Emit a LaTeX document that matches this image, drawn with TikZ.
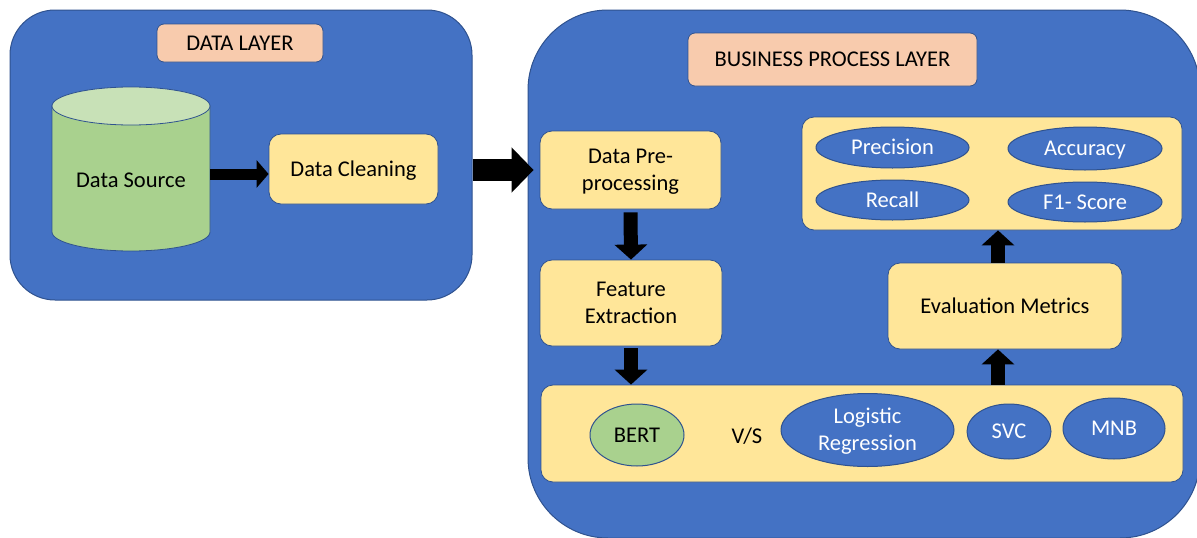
\documentclass[tikz,border=0pt]{standalone}
\usepackage{fontspec}
\setmainfont{Carlito}
\usetikzlibrary{shapes.geometric,arrows.meta,calc}

\definecolor{layerblue}{HTML}{4472C4}
\definecolor{edgeblue}{HTML}{2F528F}
\definecolor{boxyellow}{HTML}{FFE699}
\definecolor{titlepeach}{HTML}{F8CBAD}
\definecolor{dbgreen}{HTML}{A9D18E}
\definecolor{dbtop}{HTML}{C8E1B7}

\tikzset{
  txt/.style={font=\fontsize{22.5}{27}\selectfont, text=black, align=center,
    text height=14.5pt, text depth=0pt},
  twolines/.style={text height=41.5pt, text depth=0pt},
  layer/.style={draw=edgeblue, line width=1pt, fill=layerblue, inner sep=0pt},
  titlebox/.style={txt, draw=edgeblue, line width=0.8pt, fill=titlepeach,
    rounded corners=7pt, inner sep=0pt},
  stagebox/.style={txt, draw=edgeblue, line width=0.8pt, fill=boxyellow,
    rounded corners=12pt, inner sep=0pt},
  oval/.style={txt, ellipse, draw=edgeblue, line width=1pt, fill=layerblue,
    text=white, inner sep=0pt},
  smallarrow/.style={draw=black, line width=14pt,
    -{Triangle[length=15pt,width=32pt]}},
  bigarrow/.style={draw=black, line width=22pt,
    -{Triangle[length=22pt,width=44pt]}},
}

\begin{document}
\begin{tikzpicture}[x=1pt,y=1pt]
\useasboundingbox (0,0) rectangle (1197,-538);
\fill[white] (0,0) rectangle (1197,-538);
\clip (0,0) rectangle (1197,-538);

% ---------- data layer ----------
\node[layer, rounded corners=45pt, minimum width=462pt, minimum height=290pt]
  (datalayer) at (241,-155) {};
\node[titlebox, minimum width=166pt, minimum height=38pt]
  (dltitle) at (240,-43) {DATA LAYER};

% database cylinder
\node[inner sep=0pt, minimum width=158pt, minimum height=164pt]
  (dsrc) at (131,-169) {};
\filldraw[draw=edgeblue, line width=0.8pt, fill=dbgreen]
  (52,-106) -- (52,-232)
  arc[start angle=180, end angle=360, x radius=79, y radius=19]
  -- (210,-106) -- cycle;
\filldraw[draw=edgeblue, line width=0.8pt, fill=dbtop]
  (131,-106) ellipse[x radius=79, y radius=19];
\node[txt] (dstext) at (131,-180) {Data Source};

\node[stagebox, minimum width=169pt, minimum height=70pt]
  (clean) at (353.5,-169) {Data Cleaning};

\draw[smallarrow, line width=11pt, -{Triangle[length=12pt,width=27pt]}]
  ($(dsrc.east)+(0,-5)$) -- ($(clean.west)+(0,-5)$);

% ---------- business process layer ----------
\node[layer, rounded corners=80pt, minimum width=672pt, minimum height=528pt]
  (bplayer) at (864,-274) {};
\node[titlebox, minimum width=289pt, minimum height=53pt]
  (bptitle) at (832.5,-59.5) {BUSINESS PROCESS LAYER};

\node[stagebox, twolines, minimum width=181pt, minimum height=78pt]
  (pre) at (630.5,-170) {Data Pre-\\processing};
\node[stagebox, twolines, minimum width=182pt, minimum height=86pt]
  (feat) at (631,-303) {Feature\\Extraction};

% model comparison strip
\node[stagebox, minimum width=642pt, minimum height=97pt]
  (models) at (862,-433.5) {};
\node[oval, fill=dbgreen, text=black, minimum width=94pt, minimum height=62pt]
  (bert) at (637,-435) {BERT};
\node[txt] (vs) at (747,-436) {V/S};
\node[oval, twolines, minimum width=173pt, minimum height=73pt]
  (logreg) at (867.5,-430) {Logistic\\Regression};
\node[oval, minimum width=84pt, minimum height=55pt]
  (svc) at (1009,-431.5) {SVC};
\node[oval, minimum width=102pt, minimum height=61pt]
  (mnb) at (1114,-428.5) {MNB};

\node[stagebox, minimum width=234pt, minimum height=86pt]
  (eval) at (1005,-306) {Evaluation Metrics};

% metric group
\node[stagebox, minimum width=380pt, minimum height=113pt]
  (metrics) at (992,-173.5) {};
\node[oval, minimum width=153pt, minimum height=41pt]
  (precision) at (892.5,-147.5) {Precision};
\node[oval, minimum width=154pt, minimum height=43pt]
  (accuracy) at (1085,-148.5) {Accuracy};
\node[oval, minimum width=153pt, minimum height=40pt]
  (recall) at (892.5,-200) {Recall};
\node[oval, minimum width=154pt, minimum height=40pt]
  (fscore) at (1085,-202) {F1- Score};

% ---------- flow arrows ----------
\draw[bigarrow, shorten >=6pt] (datalayer.east |- pre.west) -- (pre.west);
\draw[smallarrow] ($(pre.south)+(0,-3)$) -- (feat.north);
\draw[smallarrow] ($(feat.south)+(0,-2)$) -- (feat.south |- models.north);
\draw[smallarrow] ($(models.north)+(136,0)$) -- ($(eval.south)+(-7,0)$);
\draw[smallarrow] ($(eval.north)+(-7,0)$) -- ($(metrics.south)+(6,0)$);
\end{tikzpicture}
\end{document}
